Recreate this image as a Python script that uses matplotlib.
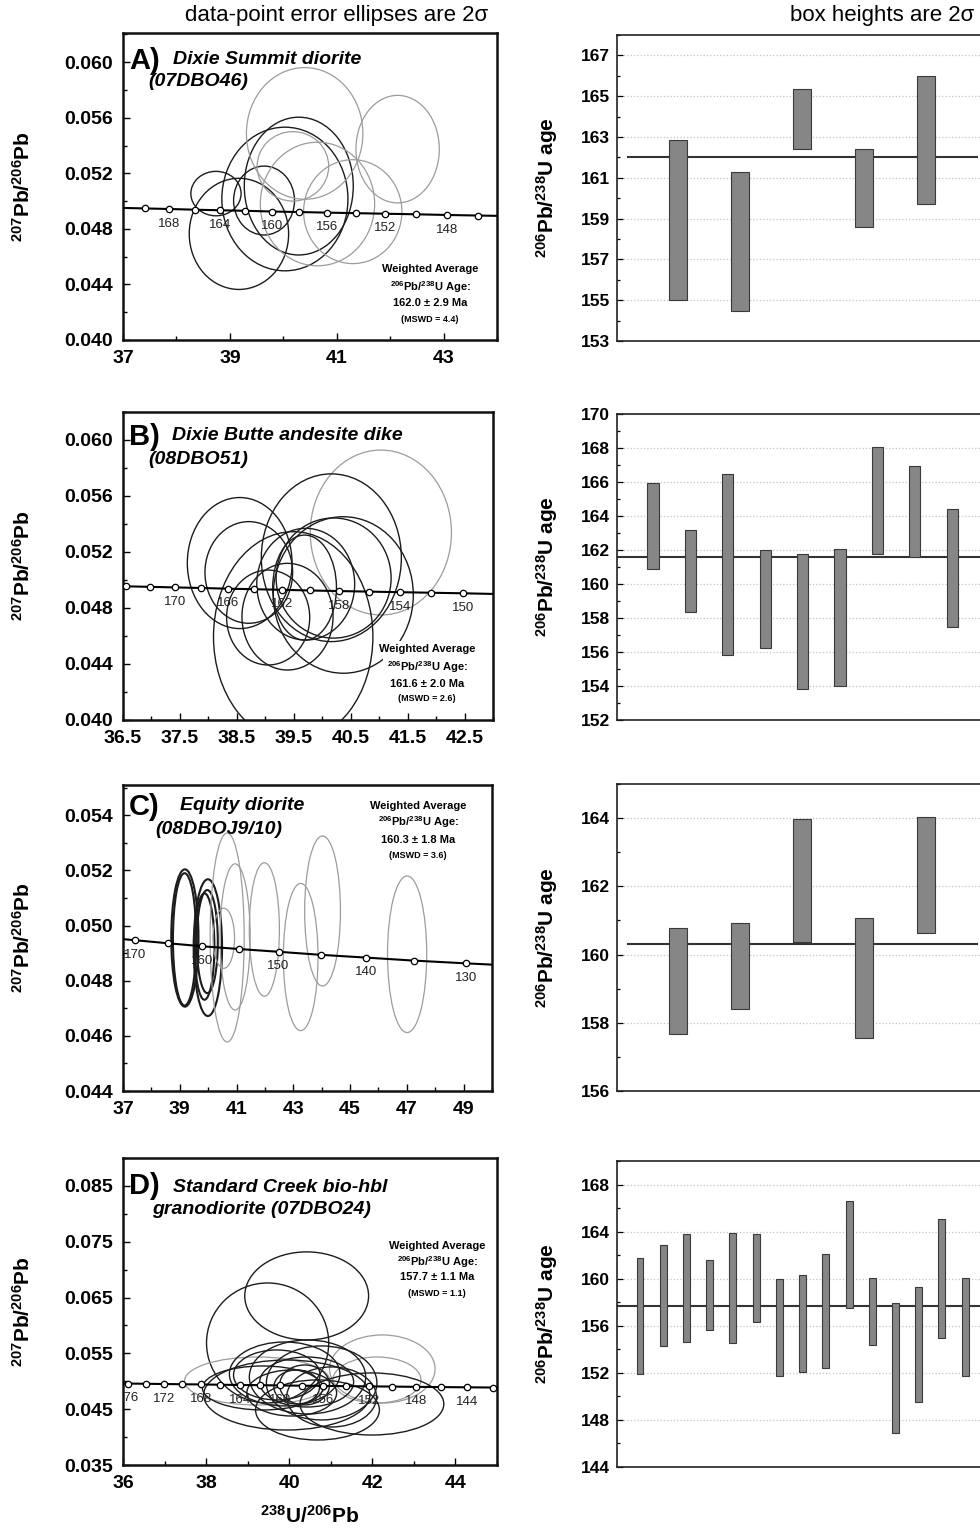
import matplotlib
matplotlib.use("Agg")
import matplotlib.pyplot as plt
from matplotlib.patches import Ellipse
from matplotlib.ticker import AutoMinorLocator, FormatStrFormatter
from matplotlib.transforms import ScaledTranslation

W, H = 980, 1533

plt.rcParams["font.family"] = ["Liberation Sans", "DejaVu Sans"]
plt.rcParams["mathtext.fontset"] = "custom"
plt.rcParams["mathtext.rm"] = "Liberation Sans"
plt.rcParams["mathtext.bf"] = "Liberation Sans:bold"
plt.rcParams["mathtext.it"] = "Liberation Sans:italic"
plt.rcParams["mathtext.default"] = "bf"

# --- concordia reference points ---
CONC2_AGE = [178, 176, 174, 172, 170, 168, 166, 164, 162, 160,
             158, 156, 154, 152, 150, 148, 146, 144, 142, 140]
CONC2_X = [35.72, 36.13, 36.55, 36.98, 37.42, 37.87, 38.34, 38.81, 39.29, 39.79,
           40.30, 40.82, 41.36, 41.91, 42.48, 43.06, 43.65, 44.27, 44.90, 45.55]
CONC2_Y = [0.04963, 0.04959, 0.04955, 0.04951, 0.04947, 0.04943, 0.04938, 0.04934, 0.04930, 0.04925,
           0.04921, 0.04917, 0.04913, 0.04909, 0.04905, 0.04900, 0.04896, 0.04892, 0.04888, 0.04884]

CONC5_AGE = [175, 170, 165, 160, 155, 150, 145, 140, 135, 130, 125]
CONC5_X = [36.34, 37.42, 38.57, 39.79, 41.09, 42.48, 43.96, 45.55, 47.25, 49.09, 51.07]
CONC5_Y = [0.04957, 0.04947, 0.04936, 0.04925, 0.04915, 0.04905, 0.04894, 0.04884, 0.04873, 0.04863, 0.04853]

# --- panel A: Dixie Summit diorite ---
A_MARK = [170, 168, 166, 164, 162, 160, 158, 156, 154, 152, 150, 148, 146]
A_LAB = [168, 164, 160, 156, 152, 148]
A_ELL_X = [38.74, 39.17, 39.64, 40.03, 40.29, 40.40, 42.14, 40.18, 40.64, 41.30]
A_ELL_Y = [0.05054, 0.04764, 0.05004, 0.05015, 0.05108, 0.05487, 0.05374, 0.05250, 0.04979, 0.04924]
A_ELL_DX = [0.47, 0.93, 0.57, 1.18, 1.02, 1.09, 0.78, 0.67, 1.07, 0.92]
A_ELL_DY = [0.00160, 0.00400, 0.00248, 0.00517, 0.00496, 0.00474, 0.00387, 0.00250, 0.00445, 0.00374]
A_ELL_GRAY = [0, 0, 0, 0, 0, 1, 1, 1, 1, 1]
A_BAR_LO = [155.0, 154.45, 162.42, 158.6, 159.73]
A_BAR_HI = [162.83, 161.28, 165.37, 162.4, 166.0]
A_MEAN = 162.0

# --- panel B: Dixie Butte andesite dike ---
B_MARK = [174, 172, 170, 168, 166, 164, 162, 160, 158, 156, 154, 152, 150]
B_LAB = [170, 166, 162, 158, 154, 150]
B_ELL_X = [41.03, 38.55, 38.71, 40.16, 39.71, 39.69, 40.37, 39.05, 39.39, 39.49, 40.20]
B_ELL_Y = [0.05339, 0.05121, 0.05054, 0.05159, 0.04970, 0.04946, 0.04893, 0.04732, 0.04738, 0.04595, 0.05014]
B_ELL_DX = [1.24, 0.92, 0.77, 1.23, 0.86, 0.56, 1.23, 0.73, 0.80, 1.40, 1.01]
B_ELL_DY = [0.00589, 0.00468, 0.00363, 0.00599, 0.00399, 0.00375, 0.00559, 0.00339, 0.00381, 0.00750, 0.00429]
B_ELL_GRAY = [1, 0, 0, 0, 0, 0, 0, 0, 0, 0, 0]
B_BAR_LO = [160.88, 158.33, 155.85, 156.25, 153.8, 154.0, 161.75, 161.6, 157.5]
B_BAR_HI = [165.95, 163.2, 166.5, 161.98, 161.75, 162.08, 168.07, 166.97, 164.44]
B_MEAN = 161.6

# --- panel C: Equity diorite ---
C_MARK = [170, 165, 160, 155, 150, 145, 140, 135, 130]
C_LAB = [170, 160, 150, 140, 130]
C_ELL_X = [39.18, 39.17, 39.99, 39.97, 39.87, 40.67, 40.95, 40.55, 41.98, 43.26, 44.03, 47.01]
C_ELL_Y = [0.04955, 0.04950, 0.04920, 0.04942, 0.04924, 0.04957, 0.04959, 0.04954, 0.04986, 0.04886, 0.05053, 0.04896]
C_ELL_DX = [0.48, 0.41, 0.50, 0.37, 0.35, 0.60, 0.53, 0.38, 0.53, 0.61, 0.63, 0.69]
C_ELL_DY = [0.00249, 0.00240, 0.00248, 0.00187, 0.00193, 0.00379, 0.00265, 0.00109, 0.00242, 0.00267, 0.00272, 0.00284]
C_ELL_GRAY = [0, 0, 0, 0, 0, 1, 1, 1, 1, 1, 1, 1]
C_BAR_LO = [157.68, 158.4, 160.36, 157.55, 160.64]
C_BAR_HI = [160.77, 160.93, 163.97, 161.06, 164.02]
C_MEAN = 160.3

# --- panel D: Standard Creek bio-hbl granodiorite ---
D_MARK = [176, 174, 172, 170, 168, 166, 164, 162, 160, 158, 156, 154, 152, 150, 148, 146, 144, 142]
D_LAB = [176, 172, 168, 164, 160, 156, 152, 148, 144]
D_ELL_X = [40.42, 39.48, 39.23, 42.24, 42.11, 39.94, 41.99, 40.68, 39.89,
           40.44, 39.70, 40.42, 40.18, 40.37, 40.06, 40.78, 41.02, 39.36]
D_ELL_Y = [0.06529, 0.05686, 0.05005, 0.05220, 0.05023, 0.04754, 0.04593, 0.04486, 0.05131,
           0.05077, 0.05113, 0.04987, 0.04898, 0.04934, 0.04790, 0.04970, 0.04719, 0.04880]
D_ELL_DX = [1.49, 1.47, 1.75, 1.27, 1.06, 2.00, 1.73, 1.49, 1.33,
            1.40, 1.04, 1.13, 0.55, 0.60, 1.08, 1.33, 1.08, 1.45]
D_ELL_DY = [0.00789, 0.01075, 0.00430, 0.00610, 0.00412, 0.00627, 0.00556, 0.00538, 0.00573,
            0.00663, 0.00448, 0.00448, 0.00305, 0.00358, 0.00412, 0.00663, 0.00538, 0.00394]
D_ELL_GRAY = [0, 0, 1, 1, 1, 0, 0, 0, 0, 0, 0, 0, 0, 0, 0, 0, 0, 0]
D_BAR_LO = [151.9, 154.3, 154.6, 155.6, 154.5, 156.3, 151.75, 152.1, 152.4,
            157.5, 154.4, 146.9, 149.5, 155.0, 151.7]
D_BAR_HI = [161.75, 162.9, 163.8, 161.6, 163.9, 163.8, 160.0, 160.3, 162.1,
            166.6, 160.1, 157.9, 159.3, 165.1, 160.1]
D_MEAN = 157.7

LETTERS = ["A)", "B)", "C)", "D)"]
NAMES = [
    ("Dixie Summit diorite", "(07DBO46)"),
    ("Dixie Butte andesite dike", "(08DBO51)"),
    ("Equity diorite", "(08DBOJ9/10)"),
    ("Standard Creek bio-hbl", "granodiorite (07DBO24)"),
]
WA_AGES = ["162.0 ± 2.9 Ma", "161.6 ± 2.0 Ma", "160.3 ± 1.8 Ma", "157.7 ± 1.1 Ma"]
WA_MSWD = ["(MSWD = 4.4)", "(MSWD = 2.6)", "(MSWD = 3.6)", "(MSWD = 1.1)"]

LEFT_XTICKS = [
    [37, 39, 41, 43],
    [36.5, 37.5, 38.5, 39.5, 40.5, 41.5, 42.5],
    [37, 39, 41, 43, 45, 47, 49],
    [36, 38, 40, 42, 44],
]
LEFT_YTICKS = [
    [0.040, 0.044, 0.048, 0.052, 0.056, 0.060],
    [0.040, 0.044, 0.048, 0.052, 0.056, 0.060],
    [0.044, 0.046, 0.048, 0.050, 0.052, 0.054],
    [0.035, 0.045, 0.055, 0.065, 0.075, 0.085],
]
RIGHT_YTICKS = [
    [153, 155, 157, 159, 161, 163, 165, 167],
    [152, 154, 156, 158, 160, 162, 164, 166, 168, 170],
    [156, 158, 160, 162, 164],
    [144, 148, 152, 156, 160, 164, 168],
]


def px_axes(fig, left, top, right, bottom):
    return fig.add_axes([left / W, 1 - bottom / H, (right - left) / W, (bottom - top) / H])


def fig_text(fig, x, y, s, **kw):
    return fig.text(x / W, 1 - y / H, s, **kw)


def draw_concordia(fig, ax, ages, xs, ys, mark_ages, label_ages):
    ax.plot(xs, ys, color="black", lw=1.5, zorder=4)
    idx = [ages.index(a) for a in mark_ages]
    ax.plot([xs[i] for i in idx], [ys[i] for i in idx], ls="none", marker="o",
            ms=4.6, mfc="white", mec="black", mew=0.9, zorder=5)
    shift = ax.transData + ScaledTranslation(0, -10.5 / 72, fig.dpi_scale_trans)
    for a in label_ages:
        i = ages.index(a)
        ax.text(xs[i], ys[i], str(a), transform=shift, ha="center", va="center",
                fontsize=9.5, color="#222222", clip_on=True, zorder=6)


def draw_ellipses(ax, xs, ys, dxs, dys, grays, lw_black=1.0):
    for x, y, dx, dy, g in zip(xs, ys, dxs, dys, grays):
        ax.add_patch(Ellipse((x, y), 2 * dx, 2 * dy, fill=False,
                             ec="#9c9c9c" if g else "#1c1c1c",
                             lw=0.9 if g else lw_black, zorder=3))


def style_left(ax, xlim, ylim, xticks, yticks, xfmt, yfmt):
    ax.set_xlim(*xlim)
    ax.set_ylim(*ylim)
    ax.set_xticks(xticks)
    ax.set_yticks(yticks)
    ax.xaxis.set_minor_locator(AutoMinorLocator(2))
    ax.yaxis.set_minor_locator(AutoMinorLocator(2))
    ax.xaxis.set_major_formatter(FormatStrFormatter(xfmt))
    ax.yaxis.set_major_formatter(FormatStrFormatter(yfmt))
    ax.tick_params(which="both", direction="in", top=False, right=False, width=1.0)
    ax.tick_params(which="major", length=5, labelsize=14, pad=7)
    ax.tick_params(which="minor", length=3)
    for lab in ax.get_xticklabels() + ax.get_yticklabels():
        lab.set_fontweight("bold")
    for sp in ax.spines.values():
        sp.set_linewidth(1.8)
        sp.set_color("#111111")
    ax.set_ylabel(r"$^{207}$Pb/$^{206}$Pb", fontsize=15, fontweight="bold")


def style_right(ax, xlim, ylim, yticks):
    ax.set_xlim(*xlim)
    ax.set_ylim(*ylim)
    ax.set_yticks(yticks)
    ax.yaxis.set_minor_locator(AutoMinorLocator(2))
    ax.tick_params(axis="x", bottom=False, labelbottom=False)
    ax.tick_params(axis="y", which="both", direction="in", width=0.9)
    ax.tick_params(axis="y", which="major", length=4, labelsize=12.5, pad=5)
    ax.tick_params(axis="y", which="minor", length=2.5)
    for lab in ax.get_yticklabels():
        lab.set_fontweight("bold")
    ax.yaxis.grid(True, which="major", ls=":", color="#c4c4c4", lw=0.9)
    ax.set_axisbelow(True)
    ax.spines["right"].set_visible(False)
    for side in ("left", "top", "bottom"):
        ax.spines[side].set_linewidth(1.2)
        ax.spines[side].set_color("#222222")
    ax.set_ylabel(r"$^{206}$Pb/$^{238}$U age", fontsize=15, fontweight="bold")
    ax.yaxis.set_label_coords(-0.149, 0.5)


def draw_boxes(ax, lo, hi, mean, xmin, xmax):
    pos = list(range(1, len(lo) + 1))
    heights = [h - l for l, h in zip(lo, hi)]
    ax.axhline(mean, xmin=xmin, xmax=xmax, color="#333333", lw=1.5, zorder=2)
    ax.bar(pos, heights, bottom=lo, width=0.3, color="#868686",
           edgecolor="#3a3a3a", lw=0.8, zorder=3)


def main():
    fig = plt.figure(figsize=(W / 100, H / 100), dpi=100)

    left_boxes = [(123, 33, 497, 340), (123, 412, 493, 720),
                  (123, 785, 492, 1091), (123, 1158, 497, 1465)]
    right_boxes = [(617, 35, 1000, 341), (617, 414, 1000, 720),
                   (617, 784, 1000, 1091), (617, 1161, 1000, 1467)]
    left_xlims = [(37, 44), (36.5, 43), (37, 50), (36, 45)]
    left_ylims = [(0.040, 0.0621), (0.040, 0.062), (0.044, 0.0551), (0.035, 0.090)]
    right_xlims = [(0.016, 6.19), (0.037, 10.28), (0.016, 6.19), (0.009, 16.5)]
    right_ylims = [(153, 168), (152, 170), (156, 165), (144, 170)]
    xfmts = ["%d", "%.1f", "%d", "%d"]

    ell = [
        (A_ELL_X, A_ELL_Y, A_ELL_DX, A_ELL_DY, A_ELL_GRAY, 1.0),
        (B_ELL_X, B_ELL_Y, B_ELL_DX, B_ELL_DY, B_ELL_GRAY, 1.0),
        (C_ELL_X, C_ELL_Y, C_ELL_DX, C_ELL_DY, C_ELL_GRAY, 1.5),
        (D_ELL_X, D_ELL_Y, D_ELL_DX, D_ELL_DY, D_ELL_GRAY, 1.0),
    ]
    conc = [
        (CONC2_AGE, CONC2_X, CONC2_Y, A_MARK, A_LAB),
        (CONC2_AGE, CONC2_X, CONC2_Y, B_MARK, B_LAB),
        (CONC5_AGE, CONC5_X, CONC5_Y, C_MARK, C_LAB),
        (CONC2_AGE, CONC2_X, CONC2_Y, D_MARK, D_LAB),
    ]
    bars = [
        (A_BAR_LO, A_BAR_HI, A_MEAN, 0.03, 0.94),
        (B_BAR_LO, B_BAR_HI, B_MEAN, 0.0, 1.0),
        (C_BAR_LO, C_BAR_HI, C_MEAN, 0.03, 0.94),
        (D_BAR_LO, D_BAR_HI, D_MEAN, 0.0, 1.0),
    ]

    # text anchor positions in pixels
    letter_pos = [(129, 61), (129, 437), (129, 807), (129, 1186)]
    name_pos = [((173, 60), (148, 81)), ((172, 436), (148, 460)),
                ((180, 805), (155, 829)), ((173, 1187), (152, 1210))]
    wa_pos = [(430, (269, 287, 303, 319)), (427, (649, 667, 684, 699)),
              (418, (806, 822, 840, 856)), (437, (1246, 1262, 1277, 1294))]

    for k in range(4):
        l, t, r, b = left_boxes[k]
        ax = px_axes(fig, l, t, r, b)
        style_left(ax, left_xlims[k], left_ylims[k], LEFT_XTICKS[k], LEFT_YTICKS[k],
                   xfmts[k], "%.3f")
        ax.yaxis.set_label_coords((34 - l) / (r - l), 0.5)
        xs, ys, dxs, dys, grays, lwb = ell[k]
        draw_ellipses(ax, xs, ys, dxs, dys, grays, lwb)
        draw_concordia(fig, ax, *conc[k])
        if k == 3:
            ax.set_xlabel(r"$^{238}$U/$^{206}$Pb", fontsize=15, fontweight="bold")
            ax.xaxis.set_label_coords(0.5, -0.13)

        rl, rt, rr, rb = right_boxes[k]
        axr = px_axes(fig, rl, rt, rr, rb)
        style_right(axr, right_xlims[k], right_ylims[k], RIGHT_YTICKS[k])
        draw_boxes(axr, *bars[k])

        lx, ly = letter_pos[k]
        fig_text(fig, lx, ly, LETTERS[k], ha="left", va="center",
                 fontsize=21, fontweight="bold")
        for (nx, ny), line in zip(name_pos[k], NAMES[k]):
            fig_text(fig, nx, ny, line, ha="left", va="center", fontsize=14,
                     fontweight="bold", style="italic")

        cx, wys = wa_pos[k]
        wa_lines = ["Weighted Average", r"$^{206}$Pb/$^{238}$U Age:", WA_AGES[k]]
        box = dict(fc="white", ec="none", pad=2.5)
        for line, y in zip(wa_lines, wys[:3]):
            fig_text(fig, cx, y, line, ha="center", va="center", fontsize=8,
                     fontweight="bold", bbox=box, zorder=10)
        fig_text(fig, cx, wys[3], WA_MSWD[k], ha="center", va="center",
                 fontsize=6.5, fontweight="bold", bbox=box, zorder=10)

    fig_text(fig, 337, 16, "data-point error ellipses are 2σ", ha="center",
             va="center", fontsize=16)
    fig_text(fig, 882, 15, "box heights are 2σ", ha="center", va="center", fontsize=16)

    fig.savefig("out.png", dpi=100, facecolor="white")
    plt.close(fig)


if __name__ == "__main__":
    main()
